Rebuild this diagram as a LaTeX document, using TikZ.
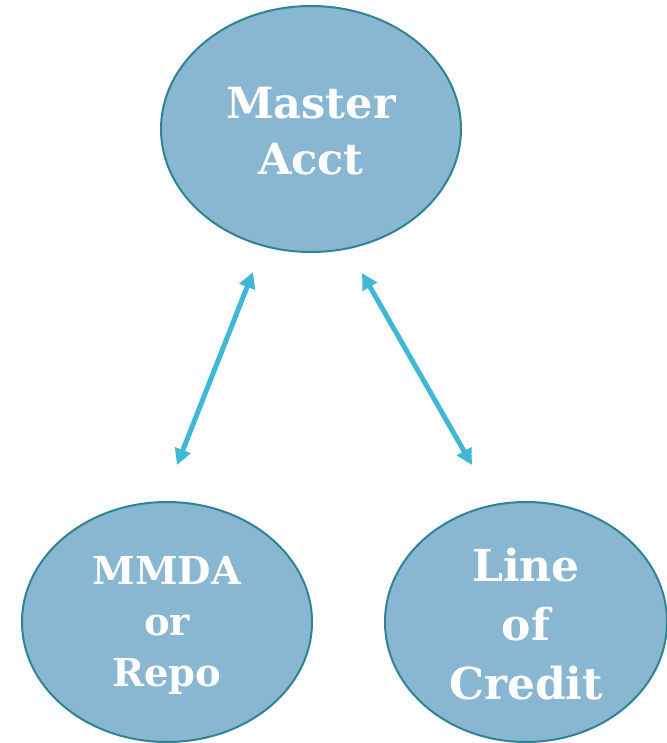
\documentclass[tikz,border=0pt]{standalone}
\usepackage{fontspec}
\setmainfont{DejaVu Serif}
\usetikzlibrary{arrows.meta,shapes.geometric}
\definecolor{ellfill}{HTML}{89B6D0}
\definecolor{elldraw}{HTML}{2E8394}
\definecolor{arrcol}{HTML}{40B8D4}
\begin{document}
\begin{tikzpicture}[x=1pt,y=-1pt,
  bubble/.style={ellipse,fill=ellfill,draw=elldraw,line width=2pt,inner sep=0pt},
  btext/.style={text=white,align=center,inner sep=0pt},
  link/.style={draw=arrcol,line width=5pt,{Triangle[length=16pt,width=16pt]}-{Triangle[length=16pt,width=16pt]}}]
\useasboundingbox (0,0) rectangle (666,743);
\node[bubble,minimum width=300pt,minimum height=246pt] (master) at (311,129) {};
\node[bubble,minimum width=290pt,minimum height=240pt] (mmda) at (167,622) {};
\node[bubble,minimum width=282pt,minimum height=240pt] (loc) at (526,622) {};
\node[btext,font=\fontsize{43}{56}\selectfont\bfseries] (mastert) at ([yshift=-2pt]master.center) {Master\\Acct};
\node[btext,font=\fontsize{38.5}{51}\selectfont\bfseries] (mmdat) at ([yshift=-3pt]mmda.center) {MMDA\\or\\Repo};
\node[btext,font=\fontsize{44}{59}\selectfont\bfseries] (loct) at ([yshift=-2pt]loc.center) {Line\\of\\Credit};
\coordinate (a1) at (253,272);
\coordinate (a2) at (177,465);
\coordinate (b1) at (362,273);
\coordinate (b2) at (472,465);
\draw[link] (a1) -- (a2);
\draw[link] (b1) -- (b2);
\end{tikzpicture}
\end{document}
